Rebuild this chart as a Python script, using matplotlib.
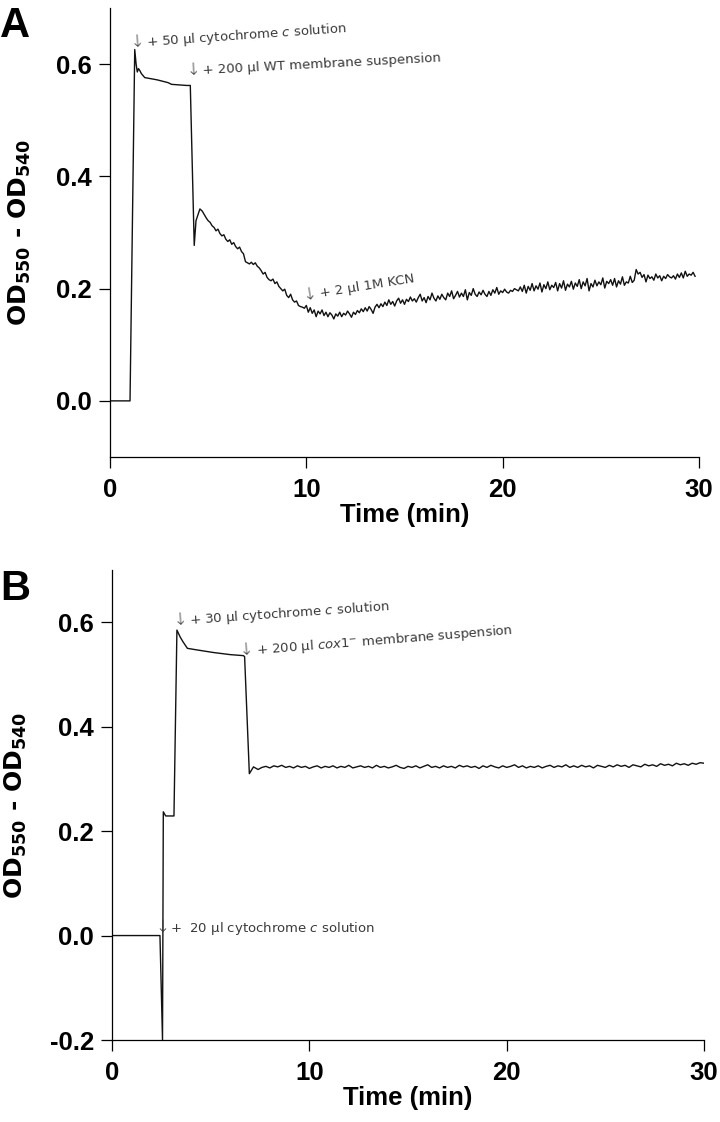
"""Cytochrome c oxidation traces (OD550 - OD540) for WT and cox1- membranes."""
import numpy as np
import matplotlib
matplotlib.use("Agg")
import matplotlib.pyplot as plt
from matplotlib.transforms import offset_copy

# ---- Panel A: WT membranes ----
a_t_head = [0.0, 1.02, 1.26, 1.33, 1.39, 1.45, 1.51, 1.60, 1.77, 2.40, 2.96, 3.13,
            3.90, 4.09, 4.29, 4.38, 4.58]
a_y_head = [0.0, 0.0, 0.626, 0.600, 0.586, 0.592, 0.589, 0.583, 0.576, 0.572, 0.567,
            0.564, 0.562, 0.562, 0.277, 0.321, 0.342]
A_NOISY_T0 = 4.7      # noisy part sampled every 0.1 min from here
a_y_noisy = [
    0.338, 0.332, 0.326, 0.321, 0.318, 0.312, 0.309, 0.303, 0.306, 0.298,
    0.294, 0.296, 0.288, 0.284, 0.287, 0.279, 0.282, 0.275, 0.271, 0.274,
    0.266, 0.262, 0.248, 0.246, 0.244, 0.247, 0.243, 0.246, 0.240, 0.237,
    0.232, 0.226, 0.229, 0.220, 0.216, 0.214, 0.217, 0.209, 0.212, 0.204,
    0.200, 0.196, 0.199, 0.188, 0.184, 0.190, 0.180, 0.176, 0.178, 0.170,
    0.168, 0.167, 0.165, 0.170, 0.158, 0.166, 0.156, 0.162, 0.150, 0.160,
    0.155, 0.162, 0.152, 0.158, 0.150, 0.157, 0.153, 0.146, 0.155, 0.151,
    0.158, 0.150, 0.156, 0.153, 0.160, 0.155, 0.149, 0.158, 0.154, 0.161,
    0.157, 0.164, 0.159, 0.166, 0.160, 0.168, 0.163, 0.156, 0.167, 0.172,
    0.166, 0.173, 0.168, 0.176, 0.170, 0.180, 0.172, 0.177, 0.169, 0.178,
    0.183, 0.174, 0.180, 0.172, 0.181, 0.177, 0.185, 0.178, 0.182, 0.176,
    0.184, 0.190, 0.178, 0.184, 0.175, 0.186, 0.180, 0.192, 0.183, 0.178,
    0.187, 0.181, 0.190, 0.184, 0.180, 0.192, 0.186, 0.196, 0.182, 0.188,
    0.195, 0.185, 0.192, 0.186, 0.198, 0.180, 0.193, 0.188, 0.200, 0.190,
    0.186, 0.194, 0.189, 0.197, 0.190, 0.186, 0.195, 0.188, 0.198, 0.192,
    0.202, 0.190, 0.196, 0.193, 0.199, 0.194, 0.192, 0.197, 0.195, 0.200,
    0.198, 0.196, 0.203, 0.195, 0.206, 0.192, 0.204, 0.197, 0.209, 0.196,
    0.205, 0.199, 0.210, 0.194, 0.207, 0.200, 0.212, 0.198, 0.206, 0.202,
    0.211, 0.196, 0.209, 0.201, 0.214, 0.197, 0.208, 0.203, 0.213, 0.199,
    0.210, 0.204, 0.216, 0.200, 0.212, 0.205, 0.218, 0.196, 0.209, 0.203,
    0.215, 0.205, 0.212, 0.207, 0.219, 0.201, 0.213, 0.209, 0.216, 0.206,
    0.218, 0.203, 0.214, 0.208, 0.221, 0.206, 0.212, 0.210, 0.222, 0.211,
    0.215, 0.234, 0.226, 0.229, 0.220, 0.225, 0.212, 0.224, 0.218, 0.221,
    0.215, 0.226, 0.219, 0.223, 0.214, 0.222, 0.218, 0.225, 0.221, 0.219,
    0.223, 0.217, 0.226, 0.220, 0.228, 0.219, 0.231, 0.222, 0.226, 0.224,
    0.229, 0.222,
]

# ---- Panel B: cox1- membranes ----
b_t_head = [0.0, 2.43, 2.56, 2.60, 2.66, 2.72, 3.14, 3.29, 3.45, 3.59, 3.82, 4.30,
            5.14, 5.98, 6.66, 6.72, 6.96, 7.17]
b_y_head = [0.0, 0.0, -0.2, 0.237, 0.233, 0.229, 0.229, 0.585, 0.572, 0.563, 0.550,
            0.547, 0.542, 0.538, 0.536, 0.534, 0.310, 0.323]
B_NOISY_T0 = 7.4      # sampled every 0.2 min from here
b_y_noisy = [
    0.318, 0.322, 0.324, 0.321, 0.325, 0.323, 0.326, 0.322, 0.324, 0.321,
    0.325, 0.322, 0.324, 0.320, 0.323, 0.325, 0.321, 0.324, 0.322, 0.325,
    0.321, 0.324, 0.322, 0.326, 0.321, 0.323, 0.325, 0.322, 0.324, 0.321,
    0.326, 0.322, 0.324, 0.321, 0.323, 0.326, 0.322, 0.320, 0.324, 0.322,
    0.325, 0.321, 0.324, 0.327, 0.322, 0.324, 0.321, 0.325, 0.322, 0.324,
    0.321, 0.326, 0.323, 0.325, 0.322, 0.324, 0.320, 0.325, 0.322, 0.326,
    0.323, 0.321, 0.325, 0.322, 0.324, 0.327, 0.322, 0.325, 0.321, 0.324,
    0.322, 0.325, 0.321, 0.324, 0.326, 0.322, 0.325, 0.323, 0.327, 0.322,
    0.325, 0.322, 0.326, 0.323, 0.325, 0.321, 0.326, 0.324, 0.322, 0.326,
    0.323, 0.327, 0.324, 0.326, 0.322, 0.327, 0.325, 0.323, 0.328, 0.325,
    0.327, 0.324, 0.329, 0.326, 0.328, 0.325, 0.330, 0.327, 0.329, 0.326,
    0.330, 0.328, 0.331, 0.330,
]

a_yticks = [0.0, 0.2, 0.4, 0.6]
b_yticks = [-0.2, 0.0, 0.2, 0.4, 0.6]
xticks = [0, 10, 20, 30]

# annotations: (text after the arrow, t, y, rotation, gap after arrow in pt)
a_notes = [
    ("+ 50 \u00b5l cytochrome $\\mathit{c}$ solution", 1.02, 0.630, 4, 12),
    ("+ 200 \u00b5l WT membrane suspension", 3.88, 0.580, 3, 12),
    ("+ 2 \u00b5l 1M KCN", 9.86, 0.180, 9, 12),
]
b_notes = [
    ("+ 30 \u00b5l cytochrome $\\mathit{c}$ solution", 3.09, 0.594, 4, 12),
    ("+ 200 \u00b5l $\\mathit{cox1}^{-}$ membrane suspension", 6.47, 0.537, 4.5, 12),
    ("+  20 \u00b5l cytochrome $\\mathit{c}$ solution", 2.18, 0.006, 0, 10.5),
]

plt.rcParams["font.family"] = ["Liberation Sans", "DejaVu Sans"]

W, H = 720, 1122
fig = plt.figure(figsize=(W / 100, H / 100), dpi=100)
axA = fig.add_axes([110 / W, 1 - 457 / H, (699 - 110) / W, (457 - 8) / H])
axB = fig.add_axes([112 / W, 1 - 1040 / H, (704 - 112) / W, (1040 - 570) / H])


def trace(t_head, y_head, t0, step, y_noisy):
    t = np.concatenate([t_head, t0 + step * np.arange(len(y_noisy))])
    y = np.concatenate([y_head, y_noisy])
    return t, y


def style(ax, ylim, yticks, label_x):
    ax.set_xlim(0, 30)
    ax.set_ylim(*ylim)
    ax.set_xticks(xticks)
    ax.set_yticks(yticks)
    ax.set_yticklabels(["%.1f" % v for v in yticks])
    for s in ("top", "right"):
        ax.spines[s].set_visible(False)
    for s in ("left", "bottom"):
        ax.spines[s].set_linewidth(0.9)
    ax.tick_params(direction="out", length=8, width=0.9, labelsize=18.5, pad=5)
    ax.tick_params(axis="x", pad=7)
    for lbl in ax.get_xticklabels() + ax.get_yticklabels():
        lbl.set_fontweight("bold")
    ax.set_xlabel("Time (min)", fontsize=18.5, fontweight="bold", labelpad=1)
    ax.set_ylabel(r"$\mathbf{OD_{550}}$ - $\mathbf{OD_{540}}$", fontsize=18,
                  fontweight="bold", family="DejaVu Sans")
    ax.yaxis.set_label_coords(label_x, 0.5)


def notes(ax, items):
    # the arrow is drawn a bit larger than the text, as in the original figure
    for txt, t, y, rot, gap in items:
        kw = dict(color="#3a3a3a", family="DejaVu Sans", rotation=rot,
                  rotation_mode="anchor", ha="left", va="baseline")
        ax.text(t, y, "\u2193", fontsize=12, fontweight="light", **kw)
        a = np.deg2rad(rot)
        tr = offset_copy(ax.transData, fig=fig, x=gap * np.cos(a),
                         y=gap * np.sin(a), units="points")
        ax.text(t, y, txt, fontsize=9.5, transform=tr, **kw)


ta, ya = trace(a_t_head, a_y_head, A_NOISY_T0, 0.1, a_y_noisy)
axA.plot(ta, ya, "-", color="#111", lw=1.0)
style(axA, (-0.1, 0.7), a_yticks, -0.131)
notes(axA, a_notes)

tb, yb = trace(b_t_head, b_y_head, B_NOISY_T0, 0.2, b_y_noisy)
axB.plot(tb, yb, "-", color="#111", lw=1.0)
style(axB, (-0.2, 0.7), b_yticks, -0.141)
notes(axB, b_notes)

fig.text(0.0, 1 - 37 / H, "A", fontsize=30, fontweight="bold", va="baseline")
fig.text(0.0, 1 - 600 / H, "B", fontsize=30, fontweight="bold", va="baseline")

fig.savefig("out.png", dpi=100)
plt.close(fig)
